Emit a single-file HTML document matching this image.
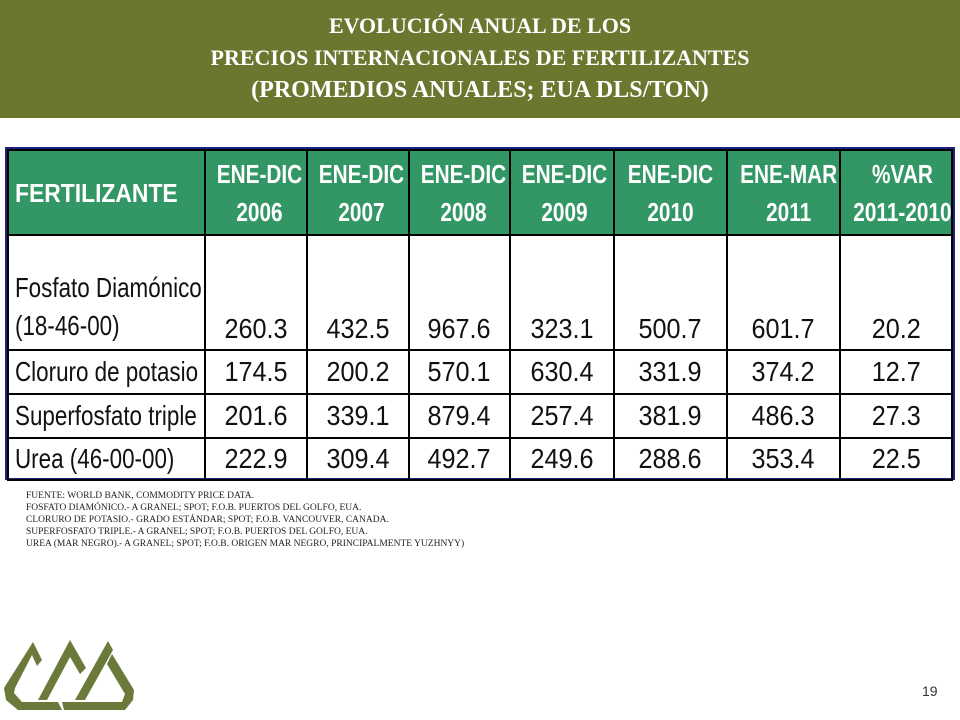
<!DOCTYPE html>
<html><head><meta charset="utf-8"><style>
body{margin:0;width:960px;height:720px;position:relative;background:#fff;font-family:"Liberation Sans",sans-serif;overflow:hidden}
#hdr{position:absolute;left:0;top:0;width:960px;height:118px;background:#69772f;color:#fff;font-family:"Liberation Serif",serif;font-weight:bold;text-align:center;font-size:22px;line-height:32px;padding-top:10px;box-sizing:border-box}
#hdr .l3{font-size:24px}
#tbl{position:absolute;left:5px;top:147px;width:950px;height:333px;border:2px solid #1a237e;box-sizing:border-box}
table{border-collapse:collapse;width:100%;height:100%;table-layout:fixed}
td{border:2px solid #000;text-align:center;font-size:28px;color:#111;padding:0;white-space:nowrap;overflow:hidden}
td span{display:inline-block;transform:scaleX(.9);transform-origin:center}
td.n{text-align:left;padding-left:6px}
td.n span{transform:scaleX(.8);transform-origin:left}
tr.h td{background:#339765;color:#fff;font-weight:bold;line-height:38px;font-size:26px}
tr.h td span{transform:scaleX(.8)}
tr.h td.n span{transform:scaleX(.88)}
tr.r1 td{vertical-align:bottom;padding-bottom:4px}
#notes{position:absolute;left:26px;top:490px;font-family:"Liberation Serif",serif;font-size:9.5px;line-height:12px;color:#222}
#pg{position:absolute;left:922px;top:683px;font-size:14px;color:#333}
</style></head><body>
<div id="hdr">EVOLUCIÓN ANUAL DE LOS<br>PRECIOS INTERNACIONALES DE FERTILIZANTES<br><span class="l3">(PROMEDIOS ANUALES; EUA DLS/TON)</span></div>
<div id="tbl">
<table>
<colgroup><col style="width:197px"><col style="width:102px"><col style="width:102px"><col style="width:101px"><col style="width:104px"><col style="width:113px"><col style="width:113px"><col></colgroup>
<tr class="h" style="height:85px"><td class="n"><span>FERTILIZANTE</span></td><td><span>ENE-DIC<br>2006</span></td><td><span>ENE-DIC<br>2007</span></td><td><span>ENE-DIC<br>2008</span></td><td><span>ENE-DIC<br>2009</span></td><td><span>ENE-DIC<br>2010</span></td><td><span>ENE-MAR<br>2011</span></td><td><span>%VAR<br>2011-2010</span></td></tr>
<tr class="r1" style="height:115px"><td class="n" style="line-height:38px"><span>Fosfato Diamónico<br>(18-46-00)</span></td><td><span>260.3</span></td><td><span>432.5</span></td><td><span>967.6</span></td><td><span>323.1</span></td><td><span>500.7</span></td><td><span>601.7</span></td><td><span>20.2</span></td></tr>
<tr style="height:44px"><td class="n"><span>Cloruro de potasio</span></td><td><span>174.5</span></td><td><span>200.2</span></td><td><span>570.1</span></td><td><span>630.4</span></td><td><span>331.9</span></td><td><span>374.2</span></td><td><span>12.7</span></td></tr>
<tr style="height:44px"><td class="n"><span>Superfosfato triple</span></td><td><span>201.6</span></td><td><span>339.1</span></td><td><span>879.4</span></td><td><span>257.4</span></td><td><span>381.9</span></td><td><span>486.3</span></td><td><span>27.3</span></td></tr>
<tr style="height:42px"><td class="n"><span>Urea (46-00-00)</span></td><td><span>222.9</span></td><td><span>309.4</span></td><td><span>492.7</span></td><td><span>249.6</span></td><td><span>288.6</span></td><td><span>353.4</span></td><td><span>22.5</span></td></tr>
</table></div>
<div id="notes">FUENTE: WORLD BANK, COMMODITY PRICE DATA.<br>FOSFATO DIAMÓNICO.- A GRANEL; SPOT; F.O.B. PUERTOS DEL GOLFO, EUA.<br>CLORURO DE POTASIO.- GRADO ESTÁNDAR; SPOT; F.O.B. VANCOUVER, CANADA.<br>SUPERFOSFATO TRIPLE.- A GRANEL; SPOT; F.O.B. PUERTOS DEL GOLFO, EUA.<br>UREA (MAR NEGRO).- A GRANEL; SPOT; F.O.B. ORIGEN MAR NEGRO, PRINCIPALMENTE YUZHNYY)</div>
<svg style="position:absolute;left:0;top:630px" width="150" height="90">
<g fill="#6b7a3a">
<polygon points="33,12 42,30 37,36 32,25 15,58 14,63 22,72 58,72 62,80 18,80 6,70 4,58"/>
<polygon points="38,70 47,70 70,27 80,44 86,38 70,10"/>
<polygon points="75,70 85,70 113,20 108,11"/>
<polygon points="112,24 134,60 133,70 125,80 64,80 62,72 122,72 125,64 107,34"/>
</g></svg>
<div id="pg">19</div>
</body></html>
